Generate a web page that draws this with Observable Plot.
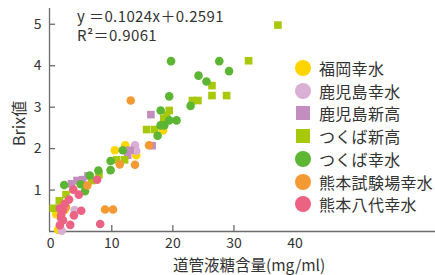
<!DOCTYPE html>
<html><head><meta charset="utf-8">
<script src="https://cdn.jsdelivr.net/npm/d3@7"></script>
<script src="https://cdn.jsdelivr.net/npm/@observablehq/plot@0.6"></script>
<style>
body{margin:0;background:#fff;}
#wrap{position:relative;width:435px;height:275px;font-family:"Noto Sans CJK JP","Noto Sans",sans-serif;color:#333;overflow:hidden;}
#wrap svg{position:absolute;left:0;top:0;}
.lbl{position:absolute;white-space:pre;line-height:1.05;}
.leg{position:absolute;left:295px;height:20px;display:flex;align-items:center;font-size:16px;letter-spacing:0.3px;color:#333;white-space:nowrap;}
.mk{width:16px;height:16px;display:inline-block;margin-right:8px;flex:none;}
</style></head><body><div id="wrap"></div>
<script>
// ---- data ----
const seriesNames = ["福岡幸水","鹿児島幸水","鹿児島新高","つくば新高","つくば幸水","熊本試験場幸水","熊本八代幸水"];
const seriesColors = ["#ffd500","#d9afd3","#c38dbe","#a8c80c","#5db534","#f39a35","#eb6283"];
const seriesShapes = ["circle","circle","square","square","circle","circle","circle"];

const fukuokaKosui = [[18.4,2.44],[12.2,2.08],[10.5,1.96],[14.0,1.84],[2.3,0.52],[0.9,0.42],[1.2,0.04]];
const kagoshimaKosui = [[13.8,2.08],[14.0,1.95],[3.9,0.52],[1.8,0.02]];
const kagoshimaNiitaka = [[16.4,2.82],[16.6,2.07],[13.0,1.96],[12.6,1.84],[3.4,1.15],[4.3,1.23],[5.2,1.25],[6.1,1.34]];
const tsukubaNiitaka = [[37.2,4.98],[32.4,4.12],[26.4,3.52],[26.4,3.28],[28.8,3.28],[23.2,3.16],[24.1,3.16],[19.4,2.92],[19.0,2.80],[18.5,2.72],[15.7,2.46],[17.0,2.46],[10.8,1.73],[12.1,1.73],[7.9,1.37],[6.7,1.23],[2.5,0.89],[1.4,0.74],[0.4,0.56]];
const tsukubaKosui = [[19.7,4.11],[27.6,4.11],[24.2,3.76],[29.2,3.87],[25.5,3.62],[19.4,3.26],[22.9,3.03],[18.0,2.92],[19.4,2.68],[20.6,2.68],[18.0,2.56],[18.6,2.56],[17.5,2.31],[11.8,1.96],[9.8,1.70],[9.8,1.48],[7.8,1.47],[6.4,1.35],[4.9,1.14],[2.2,1.12],[5.6,0.97]];
const kumamotoShikenjoKosui = [[13.1,3.16],[16.1,2.08],[11.3,1.62],[13.8,1.61],[6.0,1.11],[8.9,0.53],[10.2,0.53],[2.5,0.59]];
const kumamotoYatsushiroKosui = [[7.6,1.25],[3.7,1.01],[4.6,0.89],[3.0,0.77],[2.3,0.67],[1.5,0.56],[2.0,0.51],[5.0,0.50],[1.7,0.39],[3.8,0.39],[1.7,0.32],[2.0,0.27],[1.5,0.15],[3.2,0.16],[8.1,0.18]];

const seriesValues = [fukuokaKosui,kagoshimaKosui,kagoshimaNiitaka,tsukubaNiitaka,tsukubaKosui,kumamotoShikenjoKosui,kumamotoYatsushiroKosui];

const xTickLabels = [0,10,20,30,40];
const xTickMarks = [10,20,30];
const yTicks = [1,2,3,4,5];
const xTitle = "道管液糖含量(mg/ml)";
const yTitle = "Brix値";
const equationLines = ["y ＝0.1024x＋0.2591","R²＝0.9061"];

// ---- build table ----
const rows = [];
seriesValues.forEach((vals,i)=>vals.forEach(([x,y])=>rows.push({series:seriesNames[i],shape:seriesShapes[i],x,y})));

const xDomain = [-0.2, 63];
const yDomain = [0, 5.38];
const axisGray = "#6a6a6a";

const chart = Plot.plot({
  width: 435, height: 275,
  marginLeft: 49, marginRight: 0, marginTop: 8, marginBottom: 44,
  style: {fontFamily: '"Noto Sans CJK JP","Noto Sans",sans-serif', fontSize: "14px", color: "#333", background: "transparent"},
  x: {domain: xDomain, label: null},
  y: {domain: yDomain, label: null},
  color: {domain: seriesNames, range: seriesColors},
  marks: [
    Plot.ruleY([0], {stroke: axisGray, strokeWidth: 1.3}),
    Plot.ruleX([xDomain[0]], {stroke: axisGray, strokeWidth: 1.3}),
    Plot.axisX(xTickMarks, {tickSize: 6, dy: -6, tickFormat: () => "", stroke: axisGray, strokeWidth: 1.3}),
    Plot.axisY(yTicks, {tickSize: 6, dx: 6, tickFormat: () => "", stroke: axisGray, strokeWidth: 1.3}),
    Plot.axisX(xTickLabels, {tickSize: 0, tickPadding: 7, fill: "#333", fontSize: 14}),
    Plot.axisY(yTicks, {tickSize: 0, tickPadding: 8, fill: "#333", fontSize: 14}),
    Plot.dot(rows, {x: "x", y: "y", fill: "series", symbol: "shape", r: 4.3})
  ]
});

const wrap = document.getElementById("wrap");
wrap.appendChild(chart);

function addLabel(text, css){
  const d = document.createElement("div");
  d.className = "lbl"; d.textContent = text;
  Object.assign(d.style, css);
  wrap.appendChild(d);
  return d;
}
// equation
addLabel(equationLines[0], {left:"77px", top:"8px", fontSize:"15px", letterSpacing:"0.4px"});
addLabel(equationLines[1], {left:"77px", top:"27px", fontSize:"15px", letterSpacing:"0.4px"});
// axis titles
const xt = addLabel(xTitle, {fontSize:"15.5px", top:"257px", lineHeight:"1"});
xt.style.left = (249 - xt.offsetWidth/2) + "px";
const yt = addLabel(yTitle, {fontSize:"16px"});
yt.style.left = (18 - yt.offsetWidth/2) + "px";
yt.style.top = (123 - yt.offsetHeight/2) + "px";
yt.style.transform = "rotate(-90deg)";

// legend
seriesNames.forEach((name,i)=>{
  const row = document.createElement("div");
  row.className = "leg";
  row.style.top = (58 + i*22.7) + "px";
  const mk = document.createElement("span");
  mk.className = "mk";
  mk.style.background = seriesColors[i];
  if (seriesShapes[i] === "circle") mk.style.borderRadius = "50%";
  else { mk.style.width = "14px"; mk.style.height = "14px"; mk.style.margin = "0 9px 0 1px"; }
  row.appendChild(mk);
  row.appendChild(document.createTextNode(name));
  wrap.appendChild(row);
});
</script></body></html>
